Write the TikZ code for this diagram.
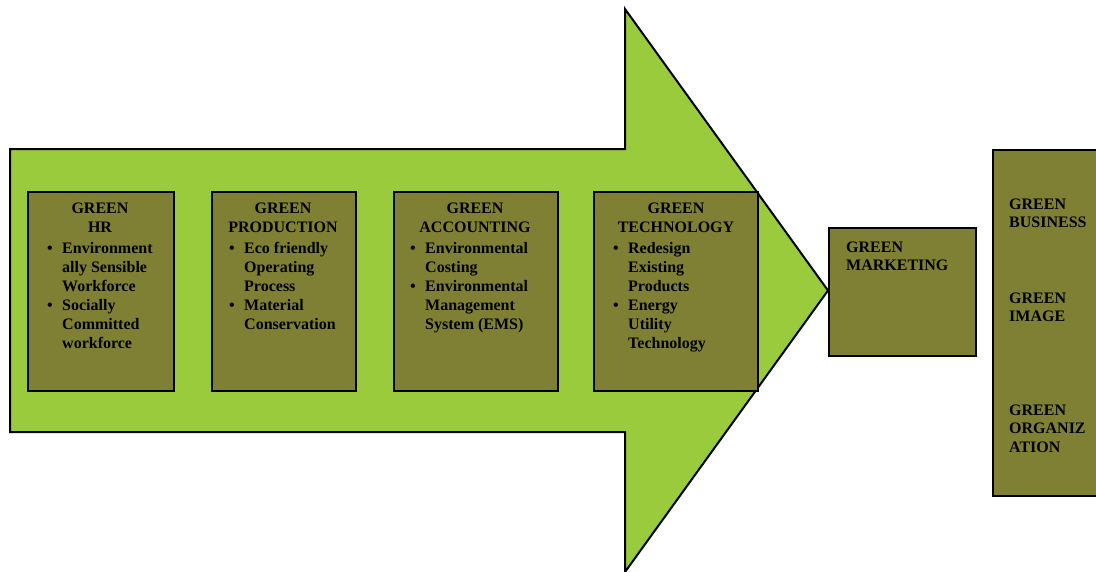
\documentclass[tikz,border=0pt]{standalone}
\usepackage{fontspec}
\setmainfont{Liberation Serif}
\definecolor{arrowgreen}{RGB}{154,203,60}
\definecolor{boxolive}{RGB}{128,128,52}
\newcommand{\bul}{\makebox[15pt][l]{\textbullet}}

\begin{document}
\begin{tikzpicture}[x=1pt,y=-1pt,
        box/.style={draw,line width=2pt,fill=boxolive,anchor=north west},
        head/.style={inner sep=0,align=center,anchor=north,font=\bfseries\fontsize{16}{19.5}\selectfont},
        lst/.style={inner sep=0,anchor=north west,font=\bfseries\fontsize{16}{19}\selectfont},
        tag/.style={inner sep=0,align=left,anchor=north west,font=\bfseries\fontsize{16}{18.5}\selectfont}]
        \useasboundingbox (0,0) rectangle (1096,571);
        \clip (0,0) rectangle (1096,571);

        % big arrow
        \draw[line width=2pt,fill=arrowgreen] (10,149) -- (625,149) -- (625,9) -- (828,290.5)
            -- (625,572) -- (625,432) -- (10,432) -- cycle;

        \node[box,minimum width=146,minimum height=199] (hr) at (27,191) {};
        \node[box,minimum width=144,minimum height=199] (prod) at (211,191) {};
        \node[box,minimum width=164,minimum height=199] (acc) at (393,191) {};
        \node[box,minimum width=164,minimum height=199] (tech) at (593,191) {};
        \node[box,minimum width=147,minimum height=128] (mkt) at (828,227) {};
        \node[box,minimum width=130,minimum height=346] (out) at (992,149) {};

        \node[head] (hrT) at (100,202.4) {GREEN\\HR};
        \node[head] (prodT) at (283,202.4) {GREEN\\PRODUCTION};
        \node[head] (accT) at (475,202.4) {GREEN\\ACCOUNTING};
        \node[head] (techT) at (676,202.4) {GREEN\\TECHNOLOGY};

        \node[lst] (hrL) at (47,239.7) {\begin{tabular}{@{}l@{}l@{}}
            \bul & Environment\\ & ally Sensible\\ & Workforce\\
            \bul & Socially\\ & Committed\\ & workforce\end{tabular}};
        \node[lst] (prodL) at (229,239.7) {\begin{tabular}{@{}l@{}l@{}}
            \bul & Eco friendly\\ & Operating\\ & Process\\
            \bul & Material\\ & Conservation\end{tabular}};
        \node[lst] (accL) at (410,239.7) {\begin{tabular}{@{}l@{}l@{}}
            \bul & Environmental\\ & Costing\\
            \bul & Environmental\\ & Management\\ & System (EMS)\end{tabular}};
        \node[lst] (techL) at (613,239.7) {\begin{tabular}{@{}l@{}l@{}}
            \bul & Redesign\\ & Existing\\ & Products\\
            \bul & Energy\\ & Utility\\ & Technology\end{tabular}};

        \node[tag] (mktT) at (846,241.4) {GREEN\\MARKETING};
        \node[tag] (busT) at (1009,198.4) {GREEN\\BUSINESS};
        \node[tag] (imgT) at (1009,292.4) {GREEN\\IMAGE};
        \node[tag] (orgT) at (1009,404.4) {GREEN\\ORGANIZ\\ATION};
\end{tikzpicture}
\end{document}
